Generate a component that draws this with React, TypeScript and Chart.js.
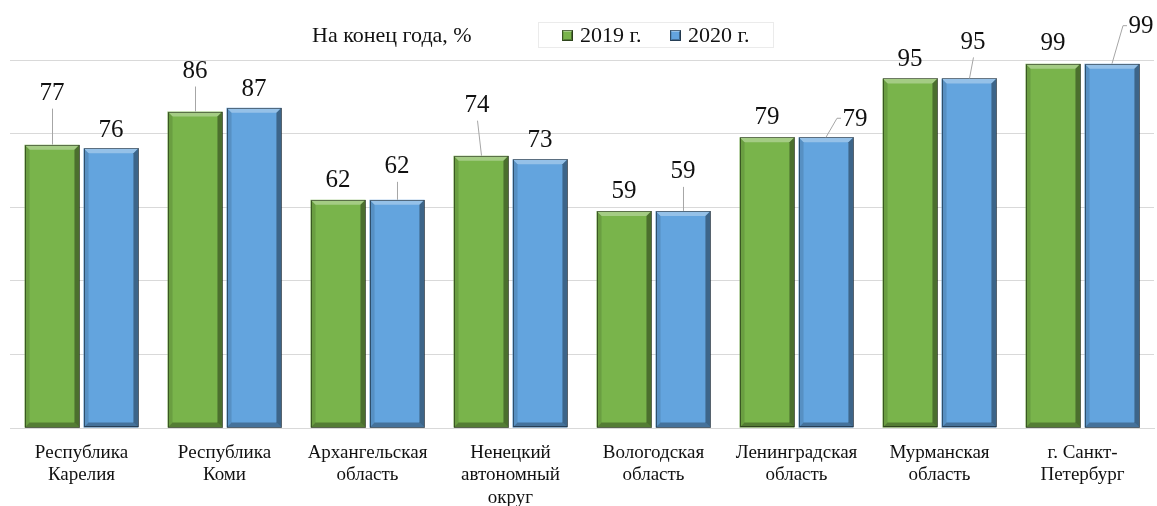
import React, { useEffect, useRef } from 'react';
import { Chart, registerables } from 'chart.js';

Chart.register(...registerables);

const CATEGORIES: string[][] = [
  ['Республика', 'Карелия'],
  ['Республика', 'Коми'],
  ['Архангельская', 'область'],
  ['Ненецкий', 'автономный', 'округ'],
  ['Вологодская', 'область'],
  ['Ленинградская', 'область'],
  ['Мурманская', 'область'],
  ['г. Санкт-', 'Петербург'],
];
const SERIES_2019 = [77, 86, 62, 74, 59, 79, 95, 99];
const SERIES_2020 = [76, 87, 62, 73, 59, 79, 95, 99];
const SERIES_NAMES = ['2019 г.', '2020 г.'];
const TITLE_TEXT = 'На конец года, %';

// label layout: [dx, dy, leaderType] relative to bar top centre
const LABEL_LAYOUT_2019 = [[0, -51, 1], [0, -40, 1], [0, -19, 0], [-4, -50, 1], [0, -19, 0], [0, -20, 0], [0, -19, 0], [0, -20, 0]];
const LABEL_LAYOUT_2020 = [[0, -18, 0], [0, -18, 0], [0, -33, 1], [0, -19, 0], [0, -39, 1], [29, -18, 2], [4, -36, 1], [29, -37, 2]];

const GREEN = '#79b44b';
const BLUE = '#63a4de';
const SERIF = '"Liberation Serif", "Times New Roman", serif';

function bevel(ctx: CanvasRenderingContext2D, left: number, top: number, right: number, bottom: number, b: number) {
  const poly = (pts: number[][], color: string) => {
    ctx.beginPath();
    ctx.moveTo(pts[0][0], pts[0][1]);
    for (let k = 1; k < pts.length; k++) ctx.lineTo(pts[k][0], pts[k][1]);
    ctx.closePath();
    ctx.fillStyle = color;
    ctx.fill();
  };
  poly([[left, top], [right, top], [right - b, top + b], [left + b, top + b]], 'rgba(255,255,255,0.32)');
  poly([[right, top], [right, bottom], [right - b, bottom - b], [right - b, top + b]], 'rgba(0,0,0,0.38)');
  poly([[left, bottom], [right, bottom], [right - b, bottom - b], [left + b, bottom - b]], 'rgba(0,0,0,0.3)');
  poly([[left, top], [left, bottom], [left + b, bottom - b], [left + b, top + b]], 'rgba(0,0,0,0.12)');
  ctx.strokeStyle = 'rgba(0,0,0,0.45)';
  ctx.lineWidth = 1;
  ctx.strokeRect(Math.round(left) + 0.5, Math.round(top) + 0.5, Math.round(right - left) - 1, Math.round(bottom - top) - 1);
}

const decorPlugin = {
  id: 'decor',
  afterDatasetsDraw(chart: any) {
    const ctx: CanvasRenderingContext2D = chart.ctx;
    ctx.save();
    chart.data.datasets.forEach((_: any, i: number) => {
      const meta = chart.getDatasetMeta(i);
      meta.data.forEach((el: any) => {
        const p = el.getProps(['x', 'y', 'base', 'width'], true);
        bevel(ctx, p.x - p.width / 2, p.y, p.x + p.width / 2, p.base, 5);
      });
    });
    const layouts = [LABEL_LAYOUT_2019, LABEL_LAYOUT_2020];
    ctx.font = '25px ' + SERIF;
    ctx.textAlign = 'center';
    ctx.textBaseline = 'middle';
    chart.data.datasets.forEach((ds: any, i: number) => {
      const meta = chart.getDatasetMeta(i);
      meta.data.forEach((el: any, j: number) => {
        const p = el.getProps(['x', 'y'], true);
        const [dx, dy, type] = layouts[i][j];
        const lx = p.x + dx;
        const ly = p.y + dy;
        ctx.strokeStyle = '#a6a6a6';
        ctx.lineWidth = 1;
        if (type === 1) {
          ctx.beginPath();
          ctx.moveTo(p.x + 0.5, p.y);
          ctx.lineTo(lx + 0.5, ly + 15);
          ctx.stroke();
        } else if (type === 2) {
          ctx.beginPath();
          ctx.moveTo(p.x, p.y);
          ctx.lineTo(lx - 18, ly - 1);
          ctx.lineTo(lx - 14, ly - 1);
          ctx.stroke();
        }
        ctx.fillStyle = '#111';
        ctx.fillText(String(ds.data[j]), lx, ly);
      });
    });
    ctx.restore();
  },
  afterDraw(chart: any) {
    const ctx: CanvasRenderingContext2D = chart.ctx;
    ctx.save();
    ctx.font = '22px ' + SERIF;
    ctx.textBaseline = 'middle';
    ctx.textAlign = 'left';
    ctx.fillStyle = '#111';
    ctx.fillText(TITLE_TEXT, 312, 36);
    ctx.strokeStyle = '#ebebeb';
    ctx.lineWidth = 1;
    ctx.strokeRect(538.5, 22.5, 235, 25);
    const items = [
      { color: GREEN, x: 562 },
      { color: BLUE, x: 670 },
    ];
    items.forEach((it, k) => {
      ctx.fillStyle = it.color;
      ctx.fillRect(it.x, 30, 11, 11);
      bevel(ctx, it.x, 30, it.x + 11, 41, 2);
      ctx.fillStyle = '#111';
      ctx.fillText(SERIES_NAMES[k], it.x + 18, 36);
    });
    ctx.restore();
  },
};

export default function App() {
  const ref = useRef<HTMLCanvasElement>(null);
  useEffect(() => {
    if (!ref.current) return;
    const chart = new Chart(ref.current, {
      type: 'bar',
      data: {
        labels: CATEGORIES,
        datasets: [
          { label: SERIES_NAMES[0], data: SERIES_2019, backgroundColor: GREEN, borderWidth: 0, categoryPercentage: 0.825, barPercentage: 0.93 },
          { label: SERIES_NAMES[1], data: SERIES_2020, backgroundColor: BLUE, borderWidth: 0, categoryPercentage: 0.825, barPercentage: 0.93 },
        ],
      },
      options: {
        animation: false,
        responsive: false,
        devicePixelRatio: 1,
        layout: { padding: { top: 60, left: 10, right: 3, bottom: 0 } },
        plugins: { legend: { display: false }, tooltip: { enabled: false }, title: { display: false } },
        scales: {
          x: {
            grid: { display: false, drawTicks: false },
            border: { display: true, color: '#d9d9d9', width: 1 },
            ticks: { color: '#111', font: { family: SERIF, size: 19, lineHeight: 1.17 }, padding: 14, maxRotation: 0, autoSkip: false },
            afterFit: (s: any) => { s.height = 78; },
          },
          y: {
            min: 0,
            max: 100,
            ticks: { display: false, stepSize: 20 },
            grid: { color: '#d9d9d9', drawTicks: false, lineWidth: 1 },
            border: { display: false },
            afterFit: (s: any) => { s.width = 0; },
          },
        },
      },
      plugins: [decorPlugin],
    } as any);
    return () => chart.destroy();
  }, []);
  return (
    <div style={{ position: 'fixed', left: 0, top: 0, width: 1157, height: 506, background: '#fff' }}>
      <canvas ref={ref} width={1157} height={506} />
    </div>
  );
}
